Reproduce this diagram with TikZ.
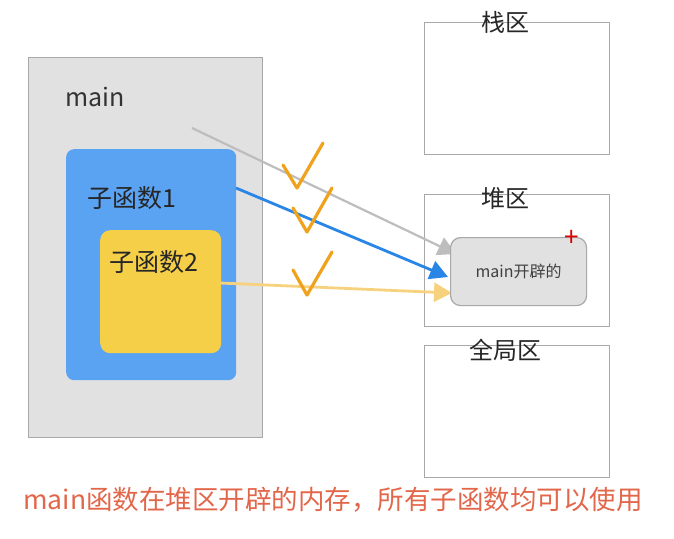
\documentclass[tikz,border=0pt]{standalone}
\usepackage{fontspec}
\setmainfont{Noto Sans CJK SC}
\usepackage{tikz}
\usetikzlibrary{arrows.meta, positioning}

\definecolor{framegray}{HTML}{A8A8A8}
\definecolor{mainfill}{HTML}{E1E1E1}
\definecolor{subone}{HTML}{5AA2F2}
\definecolor{subtwo}{HTML}{F6CF48}
\definecolor{checkor}{HTML}{F0A21E}
\definecolor{noteor}{HTML}{E2674A}
\definecolor{ptrgray}{HTML}{BDBDBD}
\definecolor{ptrblue}{HTML}{2A86E6}
\definecolor{ptryellow}{HTML}{F7D27E}

\begin{document}
\begin{tikzpicture}[
    x=1pt, y=-1pt,
    >=Stealth,
    font=\fontsize{25}{29}\selectfont,
    region/.style={rectangle, draw=framegray, line width=1.2pt, fill=white, minimum width=185pt, minimum height=132pt, inner sep=0pt},
    regionlabel/.style={font=\fontsize{24}{28}\selectfont, text=black!85, inner sep=0pt},
    frame/.style={rectangle, draw=framegray, line width=1.2pt, inner sep=0pt},
    pointer/.style={-{Triangle[length=18pt, width=19pt]}, line width=2.8pt},
    check/.style={draw=checkor, line width=3.2pt, line cap=round, line join=round}
]
\useasboundingbox (0,0) rectangle (674,538);

% stack, heap and global regions
\node[region, anchor=north west] (stack) at (424,22) {};
\node[region, anchor=north west] (heap) at (424,194) {};
\node[region, anchor=north west] (global) at (424,345) {};
\node[regionlabel] (stacklabel) at (505,22) {栈区};
\node[regionlabel] (heaplabel) at (505,198) {堆区};
\node[regionlabel] (globallabel) at (505,350) {全局区};

% main and its sub functions
\node[frame, fill=mainfill, minimum width=234pt, minimum height=380pt, anchor=north west] (main) at (28,57) {};
\node[anchor=west, text=black!80, inner sep=0pt] (mainlabel) at (65,97) {main};
\node[rectangle, fill=subone, rounded corners=8pt, minimum width=170pt, minimum height=231pt, anchor=north west] (subA) at (66,149) {};
\node[anchor=west, text=black!85, inner sep=0pt] (subAlabel) at (87,198) {子函数1};
\node[rectangle, fill=subtwo, rounded corners=10pt, minimum width=121pt, minimum height=123pt, anchor=north west] (subB) at (100,230) {};
\node[anchor=west, text=black!85, inner sep=0pt] (subBlabel) at (109,262) {子函数2};

% pointers into the heap block
\coordinate (fromMain) at (192,128);
\coordinate (fromA) at (236,188);
\coordinate (fromB) at (220,283);
\coordinate (tipMain) at (456,254);
\coordinate (tipA) at (448,277);
\coordinate (tipB) at (452,293);
\draw[pointer, draw=ptrgray, fill=ptrgray, line width=2.2pt] (fromMain) -- (tipMain);
\draw[pointer, draw=ptrblue, fill=ptrblue] (fromA) -- (tipA);
\draw[pointer, draw=ptryellow, fill=ptryellow] (fromB) -- (tipB);

% block allocated by main on the heap
\node[frame, fill=mainfill, rounded corners=10pt, minimum width=136pt, minimum height=68pt, anchor=north west, font=\fontsize{16}{19}\selectfont, text=black!75] (alloc) at (450,237) {main开辟的};
\node[text=red!85!black, font=\fontsize{26}{26}\selectfont, inner sep=0pt] (plus) at (572,238) {+};

% check marks
\draw[check] (283,165) -- (297,188) -- (323,143);
\draw[check] (293,208) -- (307,232) -- (332,188);
\draw[check] (293,270) -- (307,295) -- (332,252);

% note
\node[text=noteor, font=\fontsize{26.5}{30}\selectfont, inner sep=0pt] (note) at (333,500) {main函数在堆区开辟的内存，所有子函数均可以使用};
\end{tikzpicture}
\end{document}
